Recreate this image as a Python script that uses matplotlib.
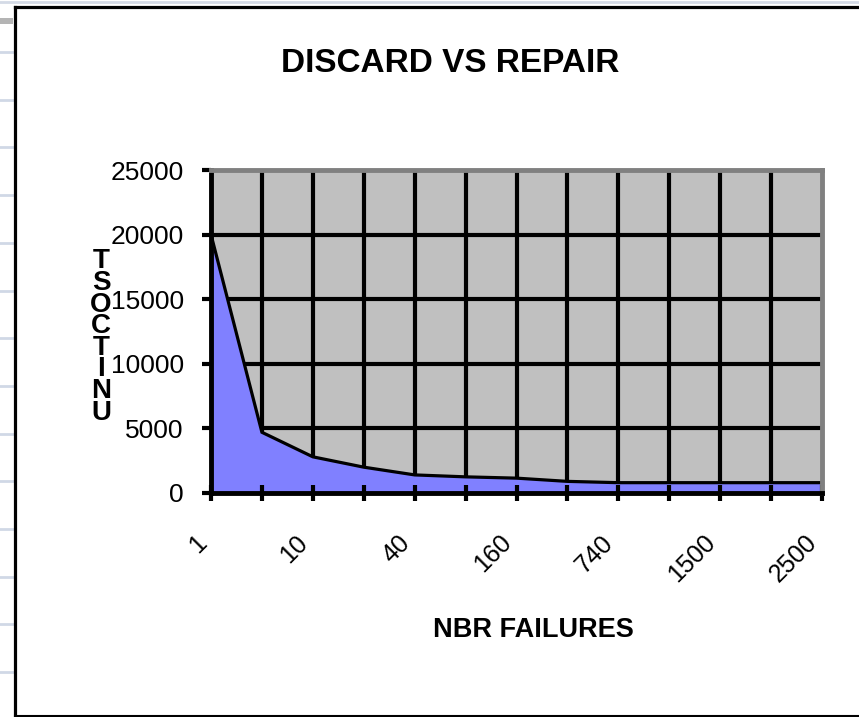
import matplotlib
matplotlib.use("Agg")
import matplotlib.pyplot as plt
from matplotlib.lines import Line2D
from matplotlib.patches import Rectangle

# chart data
categories = ['1', '', '10', '', '40', '', '160', '', '740', '', '1500', '', '2500']
unit_cost = [20000, 4700, 2800, 2000, 1400, 1250, 1150, 900, 800, 800, 800, 800, 800]
y_ticks = [0, 5000, 10000, 15000, 20000, 25000]
title = 'DISCARD VS REPAIR'
x_title = 'NBR FAILURES'
y_title = 'UNIT COST'

plt.rcParams['font.family'] = ['Liberation Sans', 'DejaVu Sans']

W, H = 859, 717
fig = plt.figure(figsize=(W / 100, H / 100), dpi=100)
fig.patch.set_facecolor('white')

# spreadsheet background + chart border (pixel coordinates overlay)
bg = fig.add_axes([0, 0, 1, 1], zorder=-5)
bg.set_xlim(0, W)
bg.set_ylim(H, 0)
bg.axis('off')
bg.add_line(Line2D([0, W], [1.5, 1.5], color='#d4dae6', lw=2))
bg.add_patch(Rectangle((0, 18), 13, 6, color='#b4b4b4', lw=0))
y = 52
while y < H:
    bg.add_line(Line2D([0, 13], [y, y], color='#d0d8e6', lw=2))
    y += 47.7
bg.add_line(Line2D([14.5, W], [7, 7], color='black', lw=2.3))
bg.add_line(Line2D([14.5, 14.5], [7, 715], color='black', lw=2.3))
bg.add_line(Line2D([14.5, W], [715.5, 715.5], color='black', lw=1.5))

# plot area: x 211..822 px, y 170..493 px
ax = fig.add_axes([211 / W, 1 - 493 / H, (822 - 211) / W, (493 - 170) / H])
ax.set_facecolor('#c0c0c0')
x = list(range(len(categories)))
ax.set_xlim(0, len(categories) - 1)
ax.set_ylim(0, 25000)

for yv in y_ticks[1:-1]:
    ax.axhline(yv, color='black', lw=3, zorder=0.5)
for xv in x[1:-1]:
    ax.axvline(xv, color='black', lw=3, zorder=0.5)

ax.fill_between(x, unit_cost, 0, color='#8080ff', lw=0, zorder=1)
ax.plot(x, unit_cost, color='black', lw=2.3, zorder=2, solid_joinstyle='miter')

for side in ['top', 'right']:
    ax.spines[side].set_color('#808080')
    ax.spines[side].set_linewidth(3.5)
for side in ['left', 'bottom']:
    ax.spines[side].set_color('black')
    ax.spines[side].set_linewidth(3.5)

ax.set_yticks(y_ticks)
ax.set_yticklabels([str(v) for v in y_ticks], fontsize=19)
ax.tick_params(axis='y', direction='out', length=6.5, width=3, pad=13)
ax.set_xticks(x)
ax.set_xticklabels(categories, fontsize=18, rotation=45, ha='right', va='top')
ax.tick_params(axis='x', direction='inout', length=12, width=3, pad=21)

fig.text(450 / W, 1 - 63 / H, title, ha='center', va='center',
         fontsize=24, fontweight='bold')
fig.text(533 / W, 1 - 630 / H, x_title, ha='center', va='center',
         fontsize=19.5, fontweight='bold')
# stacked y title as Excel drew it (letters upright, read bottom to top)
stacked = '\n'.join(c for c in reversed(y_title) if c != ' ')
fig.text(101 / W, 1 - 337 / H, stacked, ha='center', va='center',
         fontsize=20, fontweight='bold', linespacing=0.78)

fig.savefig('out.png', dpi=100)
